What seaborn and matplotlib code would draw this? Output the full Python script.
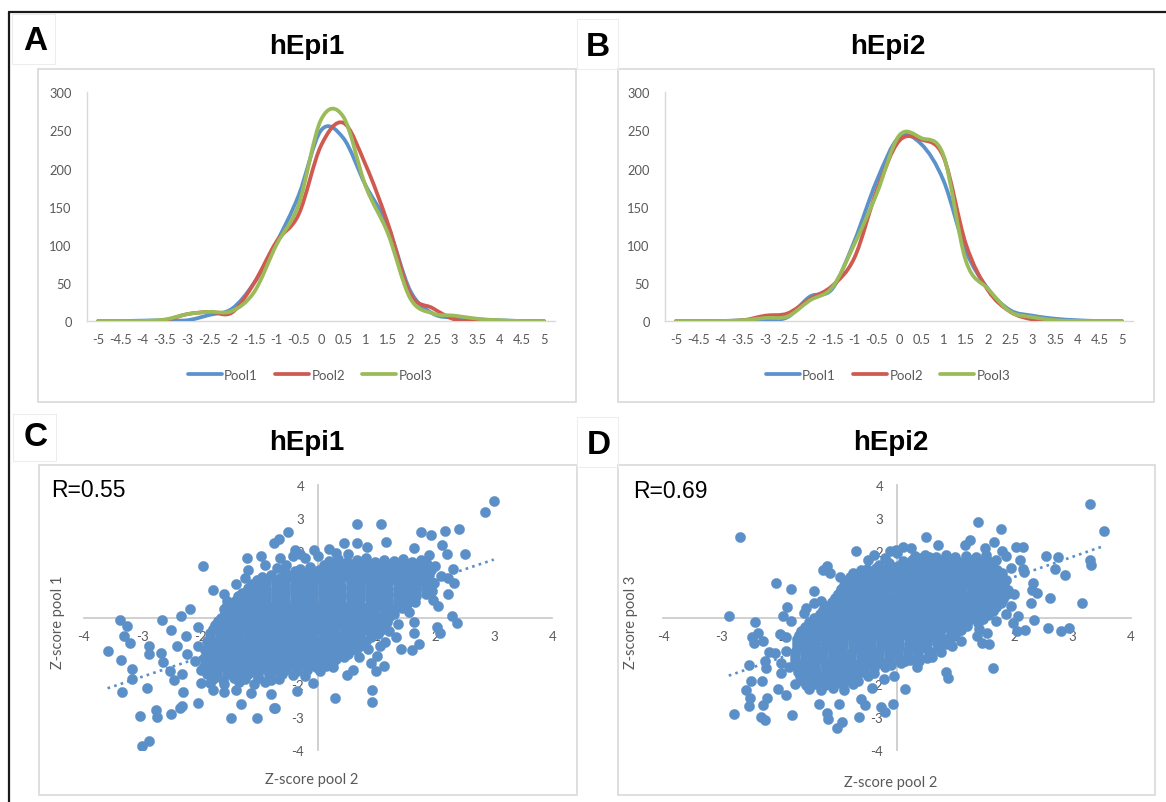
import matplotlib
matplotlib.use("Agg")
import matplotlib.pyplot as plt
from matplotlib.path import Path
from matplotlib.patches import PathPatch, Rectangle
from matplotlib.lines import Line2D
import seaborn as sns
import pandas as pd

sns.set_theme(style="white")
plt.rcParams["font.family"] = ["Lato", "DejaVu Sans"]

# ---------------- data ----------------
z_bins = [-5, -4.5, -4, -3.5, -3, -2.5, -2, -1.5, -1, -0.5, 0,
          0.5, 1, 1.5, 2, 2.5, 3, 3.5, 4, 4.5, 5]
count_ticks = [0, 50, 100, 150, 200, 250, 300]
pool_names = ["Pool1", "Pool2", "Pool3"]

hepi1_pool1 = [0, 0, 0.5, 1, 1, 8, 16, 50, 103, 165, 250, 240, 178, 125, 40, 10, 4, 2, 1, 0, 0]
hepi1_pool2 = [0, 0, 0, 1, 9, 12, 11, 50, 104, 140, 230, 260, 205, 128, 36, 17, 2, 0, 0, 0, 0]
hepi1_pool3 = [0, 0, 0, 2, 9, 12, 13, 38, 100, 153, 264, 268, 177, 115, 30, 10, 7, 3, 1, 0, 0]

hepi2_pool1 = [0, 0, 0, 1, 2, 5, 32, 42, 105, 184, 241, 232, 184, 92, 42, 14, 7, 3, 1, 0, 0]
hepi2_pool2 = [0, 0, 0, 1, 7, 10, 29, 46, 83, 171, 236, 238, 215, 101, 40, 12, 2, 0, 0, 0, 0]
hepi2_pool3 = [0, 0, 0, 1, 4, 6, 27, 44, 101, 167, 243, 240, 217, 79, 42, 12, 5, 1, 0, 0, 0]

z_ticks = [-4, -3, -2, -1, 0, 1, 2, 3, 4]

# hEpi1: (Z-score pool 2, Z-score pool 1)
hepi1_scatter = [
    (0.18, 1.70), (0.34, 1.76), (0.5, 1.68), (0.66, 1.74), (0.82, 1.79), (0.97, 1.69), (1.13, 1.75),
    (1.29, 1.71), (1.45, 1.78), (1.6, 1.68), (1.76, 1.74),
    (-0.3, 1.46), (-0.14, 1.52), (0.02, 1.44), (0.18, 1.5), (0.34, 1.47), (0.5, 1.53), (0.66, 1.45),
    (0.82, 1.5), (0.98, 1.46), (1.14, 1.52), (1.3, 1.44), (1.46, 1.5), (1.62, 1.47), (1.78, 1.53), (1.92, 1.45),
    (-0.95, 1.22), (-0.8, 1.27), (-0.64, 1.2), (-0.48, 1.26), (-0.32, 1.22), (-0.16, 1.28), (0.0, 1.21),
    (0.16, 1.25), (0.32, 1.2), (0.48, 1.27), (0.64, 1.23), (0.8, 1.2), (0.96, 1.26), (1.12, 1.22),
    (1.28, 1.27), (1.44, 1.21), (1.6, 1.25), (1.76, 1.2), (1.9, 1.27),
    (-1.12, 1.0), (-1.0, 0.96), (-0.88, 1.03), (-0.72, 0.98), (-0.56, 1.02), (-0.4, 0.95), (-0.24, 1.0),
    (-0.08, 1.04), (0.08, 0.97), (0.24, 1.01), (0.4, 0.96), (0.56, 1.03), (0.72, 0.99), (0.88, 1.02),
    (1.04, 0.95), (1.2, 1.0), (1.36, 1.04), (1.52, 0.97), (1.68, 1.01), (1.84, 0.96),
    (-1.3, 0.74), (-1.18, 0.79), (-1.04, 0.72), (-0.88, 0.77), (-0.72, 0.73), (-0.56, 0.79), (-0.4, 0.75),
    (-0.24, 0.71), (-0.08, 0.78), (0.08, 0.74), (0.24, 0.79), (0.4, 0.72), (0.56, 0.76), (0.72, 0.8),
    (0.88, 0.73), (1.04, 0.77), (1.2, 0.72), (1.36, 0.78), (1.52, 0.74), (1.68, 0.79), (1.84, 0.72),
    (-1.42, 0.5), (-1.3, 0.55), (-1.18, 0.48), (-1.04, 0.53), (-0.88, 0.5), (-0.72, 0.56), (-0.56, 0.49),
    (-0.4, 0.54), (-0.24, 0.5), (-0.08, 0.47), (0.08, 0.53), (0.24, 0.5), (0.4, 0.56), (0.56, 0.48),
    (0.72, 0.52), (0.88, 0.55), (1.04, 0.49), (1.2, 0.54), (1.36, 0.5), (1.52, 0.55), (1.66, 0.48),
    (-1.6, 0.26), (-1.44, 0.3), (-1.28, 0.24), (-1.12, 0.29), (-0.96, 0.25), (-0.8, 0.31), (-0.64, 0.23),
    (-0.48, 0.28), (-0.32, 0.26), (-0.16, 0.3), (0.0, 0.24), (0.16, 0.29), (0.32, 0.25), (0.48, 0.3),
    (0.64, 0.23), (0.8, 0.28), (0.96, 0.26), (1.12, 0.31), (1.28, 0.24), (1.44, 0.28),
    (-1.66, 0.0), (-1.5, 0.05), (-1.34, -0.02), (-1.18, 0.03), (-1.02, 0.0), (-0.86, 0.06), (-0.7, -0.01),
    (-0.54, 0.04), (-0.38, 0.0), (-0.22, 0.05), (-0.06, -0.02), (0.1, 0.03), (0.26, 0.0), (0.42, 0.05),
    (0.58, -0.02), (0.74, 0.02), (0.9, 0.05), (1.06, -0.01), (1.22, 0.03),
    (-1.76, -0.24), (-1.6, -0.2), (-1.44, -0.26), (-1.28, -0.21), (-1.12, -0.25), (-0.96, -0.19),
    (-0.8, -0.24), (-0.64, -0.2), (-0.48, -0.27), (-0.32, -0.22), (-0.16, -0.25), (0.0, -0.2),
    (0.16, -0.26), (0.32, -0.21), (0.48, -0.24), (0.64, -0.19), (0.8, -0.25), (0.96, -0.22), (1.12, -0.2),
    (-1.84, -0.47), (-1.68, -0.51), (-1.52, -0.45), (-1.36, -0.5), (-1.2, -0.46), (-1.04, -0.52),
    (-0.88, -0.48), (-0.72, -0.44), (-0.56, -0.5), (-0.4, -0.47), (-0.24, -0.52), (-0.08, -0.45),
    (0.08, -0.49), (0.24, -0.46), (0.4, -0.52), (0.56, -0.47), (0.72, -0.5), (0.88, -0.45), (1.02, -0.5),
    (-1.9, -0.72), (-1.74, -0.76), (-1.58, -0.7), (-1.42, -0.75), (-1.26, -0.71), (-1.1, -0.77),
    (-0.94, -0.73), (-0.78, -0.69), (-0.62, -0.75), (-0.46, -0.72), (-0.3, -0.77), (-0.14, -0.7),
    (0.02, -0.74), (0.18, -0.71), (0.34, -0.76), (0.5, -0.7), (0.66, -0.74), (0.82, -0.72),
    (-1.92, -0.97), (-1.76, -1.01), (-1.6, -0.95), (-1.44, -1.0), (-1.28, -0.96), (-1.12, -1.02),
    (-0.96, -0.98), (-0.8, -0.94), (-0.64, -1.0), (-0.48, -0.97), (-0.32, -1.02), (-0.16, -0.95),
    (0.0, -0.99), (0.16, -0.96), (0.32, -1.01), (0.48, -0.95), (0.64, -0.99),
    (-1.94, -1.22), (-1.78, -1.26), (-1.62, -1.2), (-1.46, -1.25), (-1.3, -1.21), (-1.14, -1.27),
    (-0.98, -1.23), (-0.82, -1.19), (-0.66, -1.25), (-0.5, -1.22), (-0.34, -1.27), (-0.18, -1.2),
    (-0.02, -1.24), (0.14, -1.21), (0.3, -1.26), (0.44, -1.2),
    (-1.95, -1.47), (-1.79, -1.51), (-1.63, -1.45), (-1.47, -1.5), (-1.31, -1.46), (-1.15, -1.52),
    (-0.99, -1.48), (-0.83, -1.44), (-0.67, -1.5), (-0.51, -1.47), (-0.35, -1.52), (-0.19, -1.45),
    (-0.03, -1.49), (0.13, -1.46),
    (-1.9, -1.72), (-1.72, -1.76), (-1.55, -1.7), (-1.38, -1.75), (-1.2, -1.71), (-1.02, -1.77),
    (-0.84, -1.73), (-0.62, -1.7), (-0.42, -1.75),
    (-1.85, -1.97), (-1.6, -2.0), (-1.35, -1.95), (-1.1, -2.02), (-0.9, -1.96),
    (-1.8, -2.2), (-1.6, -2.25), (-1.4, -2.18), (-1.15, -2.28),
    (0.1, 1.6), (0.26, 1.63), (0.42, 1.58), (0.58, 1.62), (0.74, 1.59), (0.9, 1.63), (1.06, 1.57),
    (1.22, 1.61), (1.38, 1.6), (1.54, 1.63), (1.7, 1.58), (1.86, 1.62),
    (-0.56, 1.36), (-0.4, 1.39), (-0.24, 1.34), (-0.08, 1.38), (0.08, 1.35), (0.24, 1.39), (0.4, 1.33),
    (0.56, 1.37), (0.72, 1.35), (0.88, 1.39), (1.04, 1.34), (1.2, 1.38), (1.36, 1.35), (1.52, 1.39),
    (1.68, 1.33), (1.84, 1.37),
    (-1.04, 1.12), (-0.88, 1.15), (-0.72, 1.1), (-0.56, 1.14), (-0.4, 1.11), (-0.24, 1.15), (-0.08, 1.09),
    (0.08, 1.13), (0.24, 1.11), (0.4, 1.15), (0.56, 1.1), (0.72, 1.14), (0.88, 1.11), (1.04, 1.15),
    (1.2, 1.09), (1.36, 1.13), (1.52, 1.11), (1.68, 1.15), (1.84, 1.1),
    (-1.2, 0.88), (-1.04, 0.91), (-0.88, 0.86), (-0.72, 0.9), (-0.56, 0.87), (-0.4, 0.91), (-0.24, 0.85),
    (-0.08, 0.89), (0.08, 0.87), (0.24, 0.91), (0.4, 0.86), (0.56, 0.9), (0.72, 0.87), (0.88, 0.91),
    (1.04, 0.85), (1.2, 0.89), (1.36, 0.87), (1.52, 0.91), (1.68, 0.86), (1.84, 0.9),
    (-1.36, 0.64), (-1.2, 0.67), (-1.04, 0.62), (-0.88, 0.66), (-0.72, 0.63), (-0.56, 0.67), (-0.4, 0.61),
    (-0.24, 0.65), (-0.08, 0.63), (0.08, 0.67), (0.24, 0.62), (0.4, 0.66), (0.56, 0.63), (0.72, 0.67),
    (0.88, 0.61), (1.04, 0.65), (1.2, 0.63), (1.36, 0.67), (1.52, 0.62), (1.68, 0.66),
    (-1.52, 0.39), (-1.36, 0.42), (-1.2, 0.37), (-1.04, 0.41), (-0.88, 0.38), (-0.72, 0.42), (-0.56, 0.36),
    (-0.4, 0.4), (-0.24, 0.38), (-0.08, 0.42), (0.08, 0.37), (0.24, 0.41), (0.4, 0.38), (0.56, 0.42),
    (0.72, 0.36), (0.88, 0.4), (1.04, 0.38), (1.2, 0.42), (1.36, 0.37), (1.52, 0.41),
    (-1.58, 0.14), (-1.42, 0.17), (-1.26, 0.12), (-1.1, 0.16), (-0.94, 0.13), (-0.78, 0.17), (-0.62, 0.11),
    (-0.46, 0.15), (-0.3, 0.13), (-0.14, 0.17), (0.02, 0.12), (0.18, 0.16), (0.34, 0.13), (0.5, 0.17),
    (0.66, 0.11), (0.82, 0.15), (0.98, 0.13), (1.14, 0.17), (1.3, 0.12),
    (-1.7, -0.11), (-1.54, -0.08), (-1.38, -0.13), (-1.22, -0.09), (-1.06, -0.12), (-0.9, -0.08),
    (-0.74, -0.14), (-0.58, -0.1), (-0.42, -0.12), (-0.26, -0.08), (-0.1, -0.13), (0.06, -0.09),
    (0.22, -0.12), (0.38, -0.08), (0.54, -0.14), (0.7, -0.1), (0.86, -0.12), (1.02, -0.08), (1.18, -0.13),
    (-1.8, -0.36), (-1.64, -0.33), (-1.48, -0.38), (-1.32, -0.34), (-1.16, -0.37), (-1.0, -0.33),
    (-0.84, -0.39), (-0.68, -0.35), (-0.52, -0.37), (-0.36, -0.33), (-0.2, -0.38), (-0.04, -0.34),
    (0.12, -0.37), (0.28, -0.33), (0.44, -0.39), (0.6, -0.35), (0.76, -0.37), (0.92, -0.33), (1.08, -0.38),
    (-1.84, -0.61), (-1.68, -0.58), (-1.52, -0.63), (-1.36, -0.59), (-1.2, -0.62), (-1.04, -0.58),
    (-0.88, -0.64), (-0.72, -0.6), (-0.56, -0.62), (-0.4, -0.58), (-0.24, -0.63), (-0.08, -0.59),
    (0.08, -0.62), (0.24, -0.58), (0.4, -0.64), (0.56, -0.6), (0.72, -0.62), (0.9, -0.58),
    (-1.86, -0.86), (-1.7, -0.83), (-1.54, -0.88), (-1.38, -0.84), (-1.22, -0.87), (-1.06, -0.83),
    (-0.9, -0.89), (-0.74, -0.85), (-0.58, -0.87), (-0.42, -0.83), (-0.26, -0.88), (-0.1, -0.84),
    (0.06, -0.87), (0.22, -0.83), (0.38, -0.89), (0.54, -0.85), (0.72, -0.87),
    (-1.88, -1.11), (-1.72, -1.08), (-1.56, -1.13), (-1.4, -1.09), (-1.24, -1.12), (-1.08, -1.08),
    (-0.92, -1.14), (-0.76, -1.1), (-0.6, -1.12), (-0.44, -1.08), (-0.28, -1.13), (-0.12, -1.09),
    (0.04, -1.12), (0.2, -1.08), (0.36, -1.14), (0.52, -1.1),
    (-1.88, -1.36), (-1.72, -1.33), (-1.56, -1.38), (-1.4, -1.34), (-1.24, -1.37), (-1.08, -1.33),
    (-0.92, -1.39), (-0.76, -1.35), (-0.6, -1.37), (-0.44, -1.33), (-0.28, -1.38), (-0.12, -1.34),
    (0.04, -1.37), (0.26, -1.33),
    (-1.88, -1.6), (-1.72, -1.63), (-1.56, -1.58), (-1.4, -1.62), (-1.24, -1.59), (-1.08, -1.63),
    (-0.92, -1.57), (-0.76, -1.61), (-0.56, -1.59), (-0.36, -1.63), (-0.18, -1.58),
    (-1.8, -1.85), (-1.62, -1.88), (-1.44, -1.83), (-1.24, -1.87), (-1.02, -1.84), (-0.8, -1.88),
    (-0.9, 1.6), (-0.7, 1.5), (-0.3, 1.92), (0.0, 1.85), (0.3, 1.95), (2.0, 1.55), (2.1, 1.25),
    (1.95, 0.8), (2.05, 0.35), (0.85, -0.95), (0.7, -1.2), (1.05, -0.85), (-2.05, -0.3),
    (-2.1, -1.3), (-2.0, -1.6), (-1.6, 0.7), (-1.4, 1.0), (-1.25, 1.2),
    (-1.96, 1.55), (-1.79, 0.83), (-2.18, 0.26), (-2.34, 0.06), (-2.67, -0.09), (-3.38, -0.09),
    (-3.26, -0.26), (-2.51, -0.38), (-3.31, -0.57), (-2.26, -0.55), (-3.2, -0.77), (-2.88, -0.87),
    (-2.4, -0.85), (-2.04, -0.85), (-3.59, -1.0), (-2.88, -1.09), (-2.68, -1.08), (-2.24, -1.09),
    (-3.36, -1.29), (-2.65, -1.35), (-3.17, -1.55), (-2.53, -1.63), (-2.32, -1.71), (-3.17, -1.85),
    (-2.46, -1.9), (-2.0, -1.98), (-3.34, -2.26), (-2.91, -2.14), (-2.3, -2.25), (-2.04, -2.57),
    (-2.32, -2.67), (-2.36, -2.72), (-2.76, -2.79), (-2.51, -2.92), (-3.03, -2.99), (-2.75, -3.01),
    (-1.49, -3.03), (-1.04, -3.03), (-1.32, -2.6), (-0.75, -2.73), (-2.89, -3.74), (-3.0, -3.87),
    (-1.56, 0.49), (-1.57, 0.33), (-1.22, 1.79), (-0.97, 1.86), (-1.2, 1.43), (-0.75, 2.26),
    (-0.66, 2.38), (-0.65, 1.81),
    (3.0, 3.52), (2.85, 3.19), (2.41, 2.67), (2.16, 2.61), (1.92, 2.48), (1.75, 2.59), (0.66, 2.82),
    (1.08, 2.82), (1.16, 2.29), (0.45, 2.26), (0.66, 2.26), (0.83, 2.13), (0.52, 1.91), (0.19, 2.06),
    (-0.06, 2.04), (-0.52, 2.57), (-0.4, 2.04), (-0.22, 1.81), (1.63, 2.09), (2.11, 2.18), (2.51, 1.93),
    (2.2, 1.91), (1.9, 1.9), (2.31, 1.47), (2.21, 1.18), (2.32, 1.03), (1.98, 1.03), (2.21, 0.7),
    (1.97, 0.52), (2.28, 0.04), (2.38, -0.16), (2.03, -0.29), (2.08, -0.48), (1.63, -0.14),
    (1.64, -0.46), (1.73, -0.8), (1.6, -0.97), (1.41, -0.95), (1.56, 0.17), (1.01, -1.15),
    (1.12, -1.47), (0.99, -1.62), (0.91, -1.37), (0.93, -2.18), (0.93, -2.54), (0.29, -2.43),
    (-0.09, -1.98), (-0.35, -2.23), (-0.23, -1.76), (0.59, -1.6), (0.5, -1.73), (-0.73, -2.74),
    (-0.66, -1.86), (-0.8, -2.3), (0.25, -1.5), (0.03, -1.62), (1.22, -0.42), (1.33, -0.58),
    (1.15, -0.75), (1.37, -0.21), (-0.55, 1.58), (-0.42, 1.85),
]

# hEpi2: (Z-score pool 2, Z-score pool 3)
hepi2_scatter = [
    (0.3, 1.86), (0.48, 1.9), (0.66, 1.83), (0.84, 1.88), (1.0, 1.82), (1.18, 1.87), (1.36, 1.84), (1.52, 1.9),
    (-0.3, 1.6), (-0.14, 1.64), (0.02, 1.57), (0.18, 1.62), (0.34, 1.58), (0.5, 1.64), (0.66, 1.56),
    (0.82, 1.61), (0.98, 1.58), (1.14, 1.64), (1.3, 1.57), (1.46, 1.62), (1.62, 1.58),
    (-0.76, 1.34), (-0.6, 1.38), (-0.44, 1.31), (-0.28, 1.36), (-0.12, 1.33), (0.04, 1.39), (0.2, 1.32),
    (0.36, 1.36), (0.52, 1.31), (0.68, 1.38), (0.84, 1.34), (1.0, 1.3), (1.16, 1.36), (1.32, 1.33),
    (1.48, 1.38), (1.64, 1.31), (1.8, 1.35),
    (-0.86, 1.1), (-0.7, 1.14), (-0.54, 1.07), (-0.38, 1.12), (-0.22, 1.08), (-0.06, 1.13), (0.1, 1.06),
    (0.26, 1.11), (0.42, 1.08), (0.58, 1.14), (0.74, 1.07), (0.9, 1.12), (1.06, 1.09), (1.22, 1.14),
    (1.38, 1.06), (1.54, 1.11), (1.7, 1.08), (1.86, 1.12),
    (-0.96, 0.85), (-0.8, 0.89), (-0.64, 0.82), (-0.48, 0.87), (-0.32, 0.83), (-0.16, 0.88), (0.0, 0.81),
    (0.16, 0.86), (0.32, 0.83), (0.48, 0.89), (0.64, 0.82), (0.8, 0.87), (0.96, 0.84), (1.12, 0.89),
    (1.28, 0.81), (1.44, 0.86), (1.6, 0.83), (1.76, 0.88), (1.9, 0.82),
    (-1.06, 0.6), (-0.9, 0.64), (-0.74, 0.57), (-0.58, 0.62), (-0.42, 0.58), (-0.26, 0.63), (-0.1, 0.56),
    (0.06, 0.61), (0.22, 0.58), (0.38, 0.64), (0.54, 0.57), (0.7, 0.62), (0.86, 0.59), (1.02, 0.64),
    (1.18, 0.56), (1.34, 0.61), (1.5, 0.58), (1.66, 0.63), (1.82, 0.57),
    (-1.2, 0.35), (-1.04, 0.39), (-0.88, 0.32), (-0.72, 0.37), (-0.56, 0.33), (-0.4, 0.38), (-0.24, 0.31),
    (-0.08, 0.36), (0.08, 0.33), (0.24, 0.39), (0.4, 0.32), (0.56, 0.37), (0.72, 0.34), (0.88, 0.39),
    (1.04, 0.31), (1.2, 0.36), (1.36, 0.33), (1.52, 0.38), (1.7, 0.32),
    (-1.32, 0.1), (-1.16, 0.14), (-1.0, 0.07), (-0.84, 0.12), (-0.68, 0.08), (-0.52, 0.13), (-0.36, 0.06),
    (-0.2, 0.11), (-0.04, 0.08), (0.12, 0.14), (0.28, 0.07), (0.44, 0.12), (0.6, 0.09), (0.76, 0.14),
    (0.92, 0.06), (1.08, 0.11), (1.24, 0.08), (1.4, 0.13), (1.56, 0.07),
    (-1.5, -0.15), (-1.34, -0.11), (-1.18, -0.18), (-1.02, -0.13), (-0.86, -0.17), (-0.7, -0.12),
    (-0.54, -0.19), (-0.38, -0.14), (-0.22, -0.17), (-0.06, -0.11), (0.1, -0.18), (0.26, -0.13),
    (0.42, -0.16), (0.58, -0.11), (0.74, -0.19), (0.9, -0.14), (1.06, -0.17), (1.22, -0.12), (1.38, -0.16),
    (-1.64, -0.4), (-1.48, -0.36), (-1.32, -0.43), (-1.16, -0.38), (-1.0, -0.42), (-0.84, -0.37),
    (-0.68, -0.44), (-0.52, -0.39), (-0.36, -0.42), (-0.2, -0.36), (-0.04, -0.43), (0.12, -0.38),
    (0.28, -0.41), (0.44, -0.36), (0.6, -0.44), (0.76, -0.39), (0.92, -0.42), (1.1, -0.37),
    (-1.72, -0.65), (-1.56, -0.61), (-1.4, -0.68), (-1.24, -0.63), (-1.08, -0.67), (-0.92, -0.62),
    (-0.76, -0.69), (-0.6, -0.64), (-0.44, -0.67), (-0.28, -0.61), (-0.12, -0.68), (0.04, -0.63),
    (0.2, -0.66), (0.36, -0.61), (0.52, -0.69), (0.68, -0.64), (0.9, -0.67),
    (-1.72, -0.9), (-1.56, -0.86), (-1.4, -0.93), (-1.24, -0.88), (-1.08, -0.92), (-0.92, -0.87),
    (-0.76, -0.94), (-0.6, -0.89), (-0.44, -0.92), (-0.28, -0.86), (-0.12, -0.93), (0.04, -0.88),
    (0.2, -0.91), (0.36, -0.86), (0.52, -0.94), (0.7, -0.89),
    (-1.74, -1.15), (-1.58, -1.11), (-1.42, -1.18), (-1.26, -1.13), (-1.1, -1.17), (-0.94, -1.12),
    (-0.78, -1.19), (-0.62, -1.14), (-0.46, -1.17), (-0.3, -1.11), (-0.14, -1.18), (0.02, -1.13),
    (0.18, -1.16), (0.36, -1.12),
    (-1.72, -1.4), (-1.56, -1.36), (-1.4, -1.43), (-1.24, -1.38), (-1.08, -1.42), (-0.92, -1.37),
    (-0.76, -1.44), (-0.6, -1.39), (-0.44, -1.42), (-0.28, -1.36), (-0.1, -1.43), (0.06, -1.38),
    (-1.7, -1.65), (-1.54, -1.61), (-1.38, -1.68), (-1.22, -1.63), (-1.06, -1.67), (-0.9, -1.62),
    (-0.74, -1.69), (-0.58, -1.64), (-0.4, -1.67),
    (-1.64, -1.9), (-1.48, -1.86), (-1.32, -1.93), (-1.16, -1.88), (-1.0, -1.92), (-0.84, -1.87),
    (-0.66, -1.93),
    (-1.5, -2.15), (-1.3, -2.2), (-1.1, -2.13), (-0.9, -2.19),
    (0.1, 1.72), (0.26, 1.75), (0.42, 1.7), (0.58, 1.74), (0.74, 1.71), (0.9, 1.75), (1.06, 1.69),
    (1.22, 1.73), (1.38, 1.71), (1.54, 1.75),
    (-0.52, 1.47), (-0.36, 1.5), (-0.2, 1.45), (-0.04, 1.49), (0.12, 1.46), (0.28, 1.5), (0.44, 1.44),
    (0.6, 1.48), (0.76, 1.46), (0.92, 1.5), (1.08, 1.45), (1.24, 1.49), (1.4, 1.46), (1.56, 1.5), (1.72, 1.45),
    (-0.8, 1.22), (-0.64, 1.25), (-0.48, 1.2), (-0.32, 1.24), (-0.16, 1.21), (0.0, 1.25), (0.16, 1.19),
    (0.32, 1.23), (0.48, 1.21), (0.64, 1.25), (0.8, 1.2), (0.96, 1.24), (1.12, 1.21), (1.28, 1.25),
    (1.44, 1.19), (1.6, 1.23), (1.78, 1.21),
    (-0.9, 0.97), (-0.74, 1.0), (-0.58, 0.95), (-0.42, 0.99), (-0.26, 0.96), (-0.1, 1.0), (0.06, 0.94),
    (0.22, 0.98), (0.38, 0.96), (0.54, 1.0), (0.7, 0.95), (0.86, 0.99), (1.02, 0.96), (1.18, 1.0),
    (1.34, 0.94), (1.5, 0.98), (1.66, 0.96), (1.84, 1.0),
    (-1.0, 0.72), (-0.84, 0.75), (-0.68, 0.7), (-0.52, 0.74), (-0.36, 0.71), (-0.2, 0.75), (-0.04, 0.69),
    (0.12, 0.73), (0.28, 0.71), (0.44, 0.75), (0.6, 0.7), (0.76, 0.74), (0.92, 0.71), (1.08, 0.75),
    (1.24, 0.69), (1.4, 0.73), (1.56, 0.71), (1.72, 0.75), (1.88, 0.7),
    (-1.12, 0.47), (-0.96, 0.5), (-0.8, 0.45), (-0.64, 0.49), (-0.48, 0.46), (-0.32, 0.5), (-0.16, 0.44),
    (0.0, 0.48), (0.16, 0.46), (0.32, 0.5), (0.48, 0.45), (0.64, 0.49), (0.8, 0.46), (0.96, 0.5),
    (1.12, 0.44), (1.28, 0.48), (1.44, 0.46), (1.6, 0.5), (1.78, 0.45),
    (-1.26, 0.22), (-1.1, 0.25), (-0.94, 0.2), (-0.78, 0.24), (-0.62, 0.21), (-0.46, 0.25), (-0.3, 0.19),
    (-0.14, 0.23), (0.02, 0.21), (0.18, 0.25), (0.34, 0.2), (0.5, 0.24), (0.66, 0.21), (0.82, 0.25),
    (0.98, 0.19), (1.14, 0.23), (1.3, 0.21), (1.46, 0.25), (1.64, 0.2),
    (-1.42, -0.03), (-1.26, 0.0), (-1.1, -0.05), (-0.94, -0.01), (-0.78, -0.04), (-0.62, 0.0),
    (-0.46, -0.06), (-0.3, -0.02), (-0.14, -0.04), (0.02, 0.0), (0.18, -0.05), (0.34, -0.01),
    (0.5, -0.04), (0.66, 0.0), (0.82, -0.06), (0.98, -0.02), (1.14, -0.04), (1.3, 0.0), (1.48, -0.05),
    (-1.58, -0.28), (-1.42, -0.25), (-1.26, -0.3), (-1.1, -0.26), (-0.94, -0.29), (-0.78, -0.25),
    (-0.62, -0.31), (-0.46, -0.27), (-0.3, -0.29), (-0.14, -0.25), (0.02, -0.3), (0.18, -0.26),
    (0.34, -0.29), (0.5, -0.25), (0.66, -0.31), (0.82, -0.27), (0.98, -0.29), (1.2, -0.25),
    (-1.68, -0.53), (-1.52, -0.5), (-1.36, -0.55), (-1.2, -0.51), (-1.04, -0.54), (-0.88, -0.5),
    (-0.72, -0.56), (-0.56, -0.52), (-0.4, -0.54), (-0.24, -0.5), (-0.08, -0.55), (0.08, -0.51),
    (0.24, -0.54), (0.4, -0.5), (0.56, -0.56), (0.72, -0.52), (0.98, -0.54),
    (-1.72, -0.78), (-1.56, -0.75), (-1.4, -0.8), (-1.24, -0.76), (-1.08, -0.79), (-0.92, -0.75),
    (-0.76, -0.81), (-0.6, -0.77), (-0.44, -0.79), (-0.28, -0.75), (-0.12, -0.8), (0.04, -0.76),
    (0.2, -0.79), (0.36, -0.75), (0.52, -0.81), (0.68, -0.77), (0.84, -0.79),
    (-1.74, -1.03), (-1.58, -1.0), (-1.42, -1.05), (-1.26, -1.01), (-1.1, -1.04), (-0.94, -1.0),
    (-0.78, -1.06), (-0.62, -1.02), (-0.46, -1.04), (-0.3, -1.0), (-0.14, -1.05), (0.02, -1.01),
    (0.18, -1.04), (0.36, -1.0), (0.58, -1.04),
    (-1.74, -1.28), (-1.58, -1.25), (-1.42, -1.3), (-1.26, -1.26), (-1.1, -1.29), (-0.94, -1.25),
    (-0.78, -1.31), (-0.62, -1.27), (-0.46, -1.29), (-0.3, -1.25), (-0.14, -1.3), (0.04, -1.26),
    (0.22, -1.29),
    (-1.7, -1.53), (-1.54, -1.5), (-1.38, -1.55), (-1.22, -1.51), (-1.06, -1.54), (-0.9, -1.5),
    (-0.74, -1.56), (-0.58, -1.52), (-0.4, -1.54), (-0.2, -1.5),
    (-1.66, -1.78), (-1.5, -1.75), (-1.34, -1.8), (-1.18, -1.76), (-1.02, -1.79), (-0.86, -1.75),
    (-0.7, -1.81), (-0.5, -1.77),
    (-1.56, -2.03), (-1.4, -2.0), (-1.24, -2.05), (-1.08, -2.01), (-0.92, -2.04), (-0.76, -2.0),
    (-0.5, 1.75), (-0.4, 1.9), (0.0, 1.95), (1.7, 1.75), (1.95, 1.5), (2.0, 0.7), (1.95, 0.35),
    (1.7, -0.1), (1.4, -0.35), (0.95, -0.85), (0.6, -1.2), (0.35, -1.5), (-1.9, -0.6), (-1.9, -1.0),
    (-1.85, -1.5), (-1.75, -2.0), (-1.55, 0.3), (-1.3, 0.5),
    (-2.69, 2.42), (-0.70, 2.02), (-2.08, 1.03), (-1.82, 0.86), (-2.88, 0.05), (-2.44, -0.15),
    (-1.88, 0.32), (-1.95, 0.05), (-1.81, -0.1), (-2.49, -0.58), (-2.38, -0.48), (-2.29, -0.72),
    (-2.45, -0.76), (-2.0, -0.5), (-2.2, -1.03), (-2.09, -1.06), (-2.26, -1.31), (-2.53, -1.43),
    (-2.25, -1.53), (-1.99, -1.36), (-1.98, -1.69), (-2.5, -1.92), (-2.32, -1.92), (-2.59, -2.19),
    (-2.52, -2.42), (-2.53, -2.66), (-2.22, -2.42), (-2.29, -2.63), (-2.03, -2.17), (-1.9, -2.35),
    (-2.79, -2.93), (-2.33, -3.0), (-2.26, -3.1), (-1.79, -2.96), (-1.2, -2.88), (-1.19, -3.08),
    (-0.95, -3.16), (-1.03, -3.33), (-0.65, -3.0), (-1.34, -2.6), (-0.99, -2.6), (-0.62, -2.45),
    (-1.42, 0.45), (-1.42, 0.8), (-1.2, 1.55), (-1.27, 1.45), (-1.15, 1.35), (-0.97, 1.22),
    (-1.01, 0.71), (-1.59, 0.15),
    (3.31, 3.43), (1.38, 2.88), (1.78, 2.66), (0.5, 2.43), (0.71, 2.2), (1.25, 2.34), (1.16, 2.2),
    (1.66, 2.29), (1.51, 2.1), (2.03, 2.12), (2.16, 2.14), (1.79, 2.0), (1.87, 1.87), (2.11, 1.75),
    (2.15, 1.48), (2.17, 1.36), (2.55, 1.87), (2.75, 1.84), (2.71, 1.46), (2.87, 1.29), (3.31, 1.73),
    (3.33, 1.6), (2.33, 1.04), (2.31, 0.84), (2.39, 0.74), (2.29, 0.44), (2.62, 0.59), (3.17, 0.43),
    (2.35, -0.07), (2.59, -0.32), (2.81, -0.42), (2.95, -0.33), (1.87, 0.1), (2.07, 0.05),
    (1.98, -0.17), (2.05, -0.4), (2.2, -0.37), (1.65, -1.54), (0.84, -1.65), (0.88, -1.82),
    (1.54, -0.46), (1.58, -0.81), (1.45, -0.76), (1.37, -0.56), (0.14, -1.31), (-0.05, -1.77),
    (-0.23, -1.87), (-0.42, -2.12), (0.14, -2.15), (-0.55, -2.63), (-0.27, -2.71), (-0.2, -2.85),
    (-0.06, -2.61), (-0.12, 2.02), (-0.02, 2.04), (0.11, 2.12), (0.24, 2.1), (0.54, 1.84), (0.41, 1.8),
    (-0.2, 1.8), (-0.09, 1.54), (0.27, 1.71), (-0.61, 1.43), (-0.33, 1.36), (-0.72, 1.2), (0.73, -0.62),
    (0.76, -1.05), (0.52, -1.22), (0.37, -1.31), (-0.57, -1.57), (0.88, -0.63), (1.1, -0.71),
    (1.04, -0.42), (3.54, 2.62),
]

# linear trend lines (slope, intercept) and correlation
hepi1_trend = (0.59, -0.02)
hepi2_trend = (0.61, 0.0)
hepi1_r = "R=0.55"
hepi2_r = "R=0.69"

# ---------------- styling ----------------
W, H = 1166, 803
BLUE, RED, GREEN = "#5B92CC", "#CF5A50", "#9BBB59"
DOT = "#5A8FC8"
GREY_TXT = "#595959"
AXIS_GREY = "#D9D9D9"

fig = plt.figure(figsize=(W / 100, H / 100), dpi=100)
fig.patch.set_facecolor("white")


def px_rect(x0, y0, x1, y1):
    return [x0 / W, 1 - y1 / H, (x1 - x0) / W, (y1 - y0) / H]


def fx(x):
    return x / W


def fy(y):
    return 1 - y / H


def box(x0, y0, x1, y1, color, lw):
    fig.patches.append(Rectangle((fx(x0), fy(y1)), (x1 - x0) / W, (y1 - y0) / H,
                                 transform=fig.transFigure, fill=False,
                                 edgecolor=color, linewidth=lw, zorder=0))


def smooth_path(xs, ys):
    pts = list(zip(xs, ys))
    verts = [pts[0]]
    codes = [Path.MOVETO]
    n = len(pts)
    for i in range(n - 1):
        p0 = pts[i - 1] if i > 0 else pts[i]
        p1, p2 = pts[i], pts[i + 1]
        p3 = pts[i + 2] if i + 2 < n else pts[i + 1]
        c1 = (p1[0] + (p2[0] - p0[0]) / 6, p1[1] + (p2[1] - p0[1]) / 6)
        c2 = (p2[0] - (p3[0] - p1[0]) / 6, p2[1] - (p3[1] - p1[1]) / 6)
        verts += [c1, c2, p2]
        codes += [Path.CURVE4] * 3
    return Path(verts, codes)


# outer frame
fig.add_artist(Line2D([fx(9), fx(1166)], [fy(13), fy(13)], transform=fig.transFigure,
                      color="#1a1a1a", lw=1.6))
fig.add_artist(Line2D([fx(9), fx(9)], [fy(13), fy(803)], transform=fig.transFigure,
                      color="#1a1a1a", lw=1.6))

# chart boxes and letter boxes
for (x0, y0, x1, y1) in [(38, 70, 576, 403), (618, 70, 1154, 403),
                         (39, 466, 577, 796), (618, 466, 1155, 796)]:
    box(x0, y0, x1, y1, "#D9D9D9", 1.2)
for (x0, y0, x1, y1) in [(12, 15, 55, 65), (577, 20, 618, 70),
                         (13, 415, 56, 462), (577, 418, 618, 468)]:
    box(x0, y0, x1, y1, "#EDEDED", 0.8)

for letter, (x, y) in zip("ABCD", [(35.5, 41), (598, 48), (36, 438), (599, 446)]):
    fig.text(fx(x), fy(y), letter, ha="center", va="center", fontsize=24,
             fontweight="bold", family="Liberation Sans", color="black")

for title, (x, y) in [("hEpi1", (307, 47)), ("hEpi2", (888, 47)),
                      ("hEpi1", (307, 443)), ("hEpi2", (891, 443))]:
    fig.text(fx(x), fy(y), title, ha="center", va="center", fontsize=20,
             fontweight="bold", family="Liberation Sans", color="black")


# ---------------- distribution panels ----------------
def density_panel(rect, series, legend_xy):
    ax = fig.add_axes(rect)
    ax.set_facecolor("none")
    for vals, col in zip(series, [BLUE, RED, GREEN]):
        ax.add_patch(PathPatch(smooth_path(z_bins, vals), facecolor="none", edgecolor=col,
                               linewidth=2.7, capstyle="round", joinstyle="round", zorder=3))
    ax.set_xlim(-5.25, 5.25)
    ax.set_ylim(0, 300)
    ax.set_xticks(z_bins)
    ax.set_xticklabels([f"{v:g}" for v in z_bins])
    ax.set_yticks(count_ticks)
    ax.set_yticklabels([str(v) for v in count_ticks])
    ax.tick_params(axis="x", length=0, pad=8.5, labelsize=9.3, labelcolor=GREY_TXT)
    ax.tick_params(axis="y", length=0, pad=11, labelsize=9.3, labelcolor=GREY_TXT)
    for s in ["top", "right"]:
        ax.spines[s].set_visible(False)
    for s in ["left", "bottom"]:
        ax.spines[s].set_color(AXIS_GREY)
        ax.spines[s].set_linewidth(1.0)
    ax.grid(False)
    handles = [Line2D([0], [0], color=c, lw=2.7) for c in [BLUE, RED, GREEN]]
    fig.legend(handles, pool_names, loc="center", bbox_to_anchor=(fx(legend_xy[0]), fy(legend_xy[1])),
               ncol=3, frameon=False, handlelength=2.6, handletextpad=0.15, columnspacing=1.3,
               prop={"size": 9.5}, labelcolor=GREY_TXT)
    return ax


density_panel(px_rect(87, 93.3, 555, 322), [hepi1_pool1, hepi1_pool2, hepi1_pool3], (310, 376))
density_panel(px_rect(665, 93.3, 1133, 322), [hepi2_pool1, hepi2_pool2, hepi2_pool3], (888, 376))


# ---------------- scatter panels ----------------
def scatter_panel(rect, points, trend, r_text, r_xy, ylab, ylab_xy, xlab_xy):
    df = pd.DataFrame(points, columns=["pool2", "other"])
    ax = fig.add_axes(rect)
    ax.set_facecolor("none")
    sns.scatterplot(data=df, x="pool2", y="other", ax=ax, s=54, color=DOT,
                    edgecolor=DOT, linewidth=0.3, zorder=3, legend=False)
    slope, icpt = trend
    x_lo, x_hi = df["pool2"].min(), df["pool2"].max()
    ax.plot([x_lo, x_hi], [slope * x_lo + icpt, slope * x_hi + icpt], color=DOT,
            lw=1.9, linestyle=(0, (1, 1.6)), zorder=2.8)
    ax.set_xlim(-4, 4)
    ax.set_ylim(-4, 4)
    ax.set_xticks(z_ticks)
    ax.set_yticks(z_ticks)
    ax.set_xticklabels([str(v) for v in z_ticks])
    ax.set_yticklabels([str(v) for v in z_ticks])
    ax.spines["left"].set_position(("data", 0))
    ax.spines["bottom"].set_position(("data", 0))
    for s in ["top", "right"]:
        ax.spines[s].set_visible(False)
    for s in ["left", "bottom"]:
        ax.spines[s].set_color("#C8C8C8")
        ax.spines[s].set_linewidth(1.2)
    ax.tick_params(axis="x", length=0, pad=9, labelsize=9.5, labelcolor=GREY_TXT)
    ax.tick_params(axis="y", length=0, pad=10, labelsize=9.5, labelcolor=GREY_TXT)
    ax.set_xlabel("")
    ax.set_ylabel("")
    ax.grid(False)
    fig.text(fx(r_xy[0]), fy(r_xy[1]), r_text, ha="left", va="center", fontsize=16.5,
             family="Liberation Sans", color="black")
    fig.text(fx(xlab_xy[0]), fy(xlab_xy[1]), "Z-score pool 2", ha="center", va="center",
             fontsize=10.5, color=GREY_TXT)
    fig.text(fx(ylab_xy[0]), fy(ylab_xy[1]), ylab, ha="center", va="center",
             fontsize=10.5, color=GREY_TXT, rotation=90)
    return ax


scatter_panel(px_rect(83.6, 486.1, 552.4, 750.9), hepi1_scatter, hepi1_trend, hepi1_r,
              (51, 491), "Z-score pool 1", (58, 622), (312, 780))
scatter_panel(px_rect(663.4, 486.1, 1130.6, 750.9), hepi2_scatter, hepi2_trend, hepi2_r,
              (633, 492), "Z-score pool 3", (631.5, 622), (891, 783))

fig.savefig("out.png", dpi=100, facecolor="white")
